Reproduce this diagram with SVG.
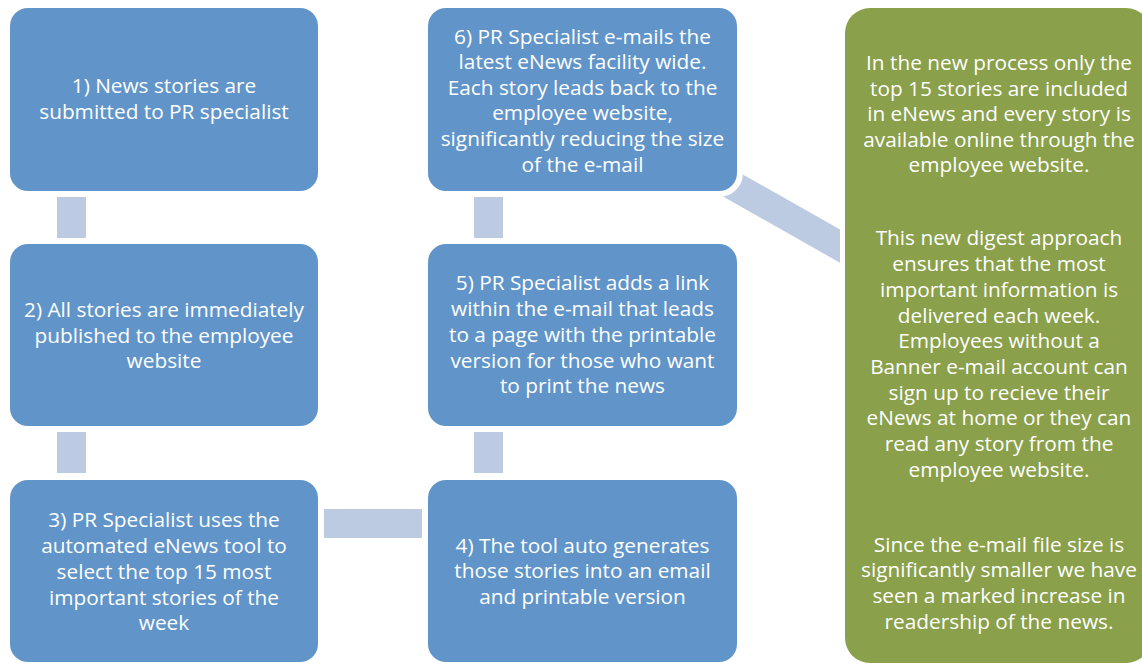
<svg xmlns="http://www.w3.org/2000/svg" width="1142" height="666" viewBox="0 0 1142 666">
<style>
.box{fill:#6195c9;stroke:#ffffff;stroke-width:12;paint-order:stroke}
.green{fill:#8aa04a;stroke:#ffffff;stroke-width:10;paint-order:stroke}
.conn{fill:#bccbe1}
.t{font-family:"Open Sans","Liberation Sans",sans-serif;font-size:20.8px;fill:#ffffff;text-anchor:middle}
</style>
<rect width="1142" height="666" fill="#ffffff"/>
<g id="connectors">
<line x1="582" y1="100" x2="997" y2="335" stroke="#bccbe1" stroke-width="29"/>
<rect class="conn" x="57" y="197" width="29" height="41"/>
<rect class="conn" x="57" y="432" width="29" height="41"/>
<rect class="conn" x="324" y="509" width="99" height="29"/>
<rect class="conn" x="474" y="432" width="29" height="41"/>
<rect class="conn" x="474" y="197" width="29" height="41"/>
</g>
<g id="node1">
<rect class="box" x="10" y="8" width="308" height="183" rx="18"/>
<text class="t" x="164" y="93">1) News stories are</text>
<text class="t" x="164" y="119">submitted to PR specialist</text>
</g>
<g id="node2">
<rect class="box" x="10" y="244" width="308" height="182" rx="18"/>
<text class="t" x="164" y="317">2) All stories are immediately</text>
<text class="t" x="164" y="343">published to the employee</text>
<text class="t" x="164" y="368">website</text>
</g>
<g id="node3">
<rect class="box" x="10" y="480" width="308" height="182" rx="18"/>
<text class="t" x="164" y="527">3) PR Specialist uses the</text>
<text class="t" x="164" y="553">automated eNews tool to</text>
<text class="t" x="164" y="579">select the top 15 most</text>
<text class="t" x="164" y="605">important stories of the</text>
<text class="t" x="164" y="630">week</text>
</g>
<g id="node4">
<rect class="box" x="428" y="480" width="309" height="182" rx="18"/>
<text class="t" x="582.5" y="553">4) The tool auto generates</text>
<text class="t" x="582.5" y="578">those stories into an email</text>
<text class="t" x="582.5" y="604">and printable version</text>
</g>
<g id="node5">
<rect class="box" x="428" y="244" width="309" height="182" rx="18"/>
<text class="t" x="582.5" y="290">5) PR Specialist adds a link</text>
<text class="t" x="582.5" y="316">within the e-mail that leads</text>
<text class="t" x="582.5" y="342">to a page with the printable</text>
<text class="t" x="582.5" y="368">version for those who want</text>
<text class="t" x="582.5" y="393">to print the news</text>
</g>
<g id="node6">
<rect class="box" x="428" y="8" width="309" height="183" rx="18"/>
<text class="t" x="582.5" y="44">6) PR Specialist e-mails the</text>
<text class="t" x="582.5" y="69">latest eNews facility wide.</text>
<text class="t" x="582.5" y="95">Each story leads back to the</text>
<text class="t" x="582.5" y="120">employee website,</text>
<text class="t" x="582.5" y="146">significantly reducing the size</text>
<text class="t" x="582.5" y="172">of the e-mail</text>
</g>
<g id="summary">
<rect class="green" x="845" y="8" width="306" height="655" rx="25"/>
<text class="t" x="999" y="70">In the new process only the</text>
<text class="t" x="999" y="96">top 15 stories are included</text>
<text class="t" x="999" y="121">in eNews and every story is</text>
<text class="t" x="999" y="147">available online through the</text>
<text class="t" x="999" y="172">employee website.</text>
<text class="t" x="999" y="245">This new digest approach</text>
<text class="t" x="999" y="271">ensures that the most</text>
<text class="t" x="999" y="297">important information is</text>
<text class="t" x="999" y="323">delivered each week.</text>
<text class="t" x="999" y="348">Employees without a</text>
<text class="t" x="999" y="374">Banner e-mail account can</text>
<text class="t" x="999" y="400">sign up to recieve their</text>
<text class="t" x="999" y="425">eNews at home or they can</text>
<text class="t" x="999" y="451">read any story from the</text>
<text class="t" x="999" y="477">employee website.</text>
<text class="t" x="999" y="552">Since the e-mail file size is</text>
<text class="t" x="999" y="577">significantly smaller we have</text>
<text class="t" x="999" y="603">seen a marked increase in</text>
<text class="t" x="999" y="629">readership of the news.</text>
</g>
</svg>
